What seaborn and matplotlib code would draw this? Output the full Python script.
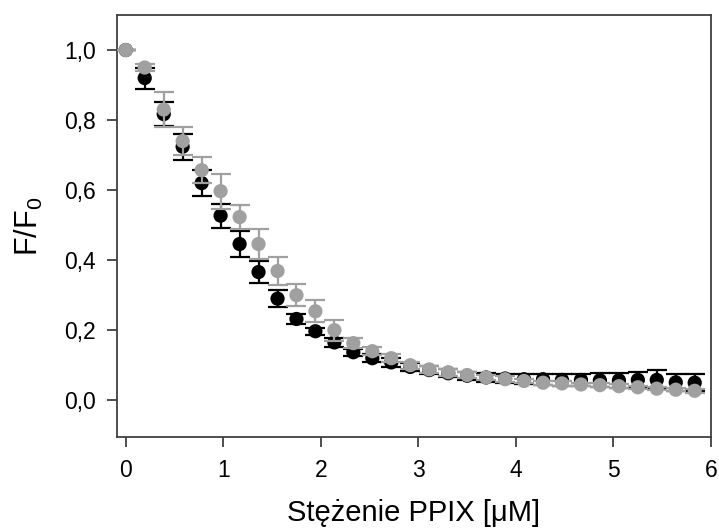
import matplotlib
matplotlib.use("Agg")
import matplotlib.pyplot as plt
import seaborn as sns
import pandas as pd
import numpy as np

# ---- data ----
conc = [0.0, 0.194, 0.389, 0.583, 0.778, 0.972, 1.167, 1.361, 1.556, 1.750,
        1.944, 2.139, 2.333, 2.528, 2.722, 2.917, 3.111, 3.306, 3.500, 3.694,
        3.889, 4.083, 4.278, 4.472, 4.667, 4.861, 5.056, 5.250, 5.444, 5.639, 5.833]

black_y = [1.0, 0.92, 0.817, 0.724, 0.62, 0.527, 0.446, 0.366, 0.29, 0.232,
           0.197, 0.165, 0.137, 0.12, 0.108, 0.095, 0.086, 0.077, 0.07, 0.065,
           0.062, 0.06, 0.06, 0.058, 0.058, 0.057, 0.057, 0.058, 0.058, 0.051, 0.05]
black_err = [0.0, 0.03, 0.035, 0.037, 0.037, 0.034, 0.037, 0.032, 0.025, 0.015,
             0.01, 0.012, 0.01, 0.012, 0.012, 0.012, 0.012, 0.012, 0.012, 0.013,
             0.014, 0.015, 0.016, 0.017, 0.018, 0.02, 0.022, 0.024, 0.027, 0.024, 0.024]

gray_y = [1.0, 0.95, 0.83, 0.74, 0.657, 0.597, 0.523, 0.446, 0.369, 0.30,
          0.254, 0.20, 0.163, 0.14, 0.12, 0.10, 0.088, 0.08, 0.072, 0.065,
          0.06, 0.055, 0.05, 0.048, 0.045, 0.043, 0.04, 0.037, 0.033, 0.03, 0.027]
gray_err = [0.0, 0.01, 0.05, 0.04, 0.037, 0.05, 0.035, 0.043, 0.04, 0.032,
            0.032, 0.03, 0.015, 0.012, 0.012, 0.01, 0.01, 0.01, 0.008, 0.008,
            0.008, 0.006, 0.006, 0.006, 0.005, 0.005, 0.005, 0.005, 0.005, 0.005, 0.005]

x_ticks = [0, 1, 2, 3, 4, 5, 6]
y_ticks = [0.0, 0.2, 0.4, 0.6, 0.8, 1.0]
y_ticklabels = ["0,0", "0,2", "0,4", "0,6", "0,8", "1,0"]

BLACK = "#000000"
GRAY = "#A0A0A0"

df = pd.DataFrame({
    "conc": conc * 2,
    "y": black_y + gray_y,
    "err": black_err + gray_err,
    "series": ["A"] * len(conc) + ["B"] * len(conc),
})

sns.set_style("ticks")
plt.rcParams["font.family"] = ["Liberation Sans", "DejaVu Sans"]
plt.rcParams["mathtext.default"] = "regular"
plt.rcParams["text.color"] = "black"
plt.rcParams["axes.labelcolor"] = "black"
plt.rcParams["xtick.labelcolor"] = "black"
plt.rcParams["ytick.labelcolor"] = "black"

fig = plt.figure(figsize=(7.19, 5.29), dpi=100)
ax = fig.add_axes([117 / 719, 1 - 437 / 529, (711 - 117) / 719, (437 - 15) / 529])

for name, col, z in [("A", BLACK, 2), ("B", GRAY, 4)]:
    sub = df[df["series"] == name]
    ax.errorbar(sub["conc"], sub["y"], yerr=sub["err"], fmt="none",
                ecolor=col, elinewidth=1.6, capsize=7, capthick=1.6, zorder=z)
    sns.scatterplot(data=sub, x="conc", y="y", color=col, s=105,
                    edgecolor="none", linewidth=0, ax=ax, zorder=z + 1, legend=False)

ax.set_xlim(-0.09, 6.0)
ax.set_ylim(-0.105, 1.1)
ax.set_xticks(x_ticks)
ax.set_xticklabels([str(t) for t in x_ticks])
ax.set_yticks(y_ticks)
ax.set_yticklabels(y_ticklabels)

for sp in ax.spines.values():
    sp.set_visible(True)
    sp.set_color("#404040")
    sp.set_linewidth(1.3)

ax.tick_params(axis="both", direction="out", length=7, width=1.3,
               color="#404040", labelsize=16.5, pad=8)
ax.tick_params(axis="x", pad=9)

ax.set_xlabel("Stężenie PPIX [μM]", fontsize=21, labelpad=12)
ax.set_ylabel("F/F$_\\mathregular{0}$", fontsize=22, labelpad=14)

fig.savefig("out.png", dpi=100)
